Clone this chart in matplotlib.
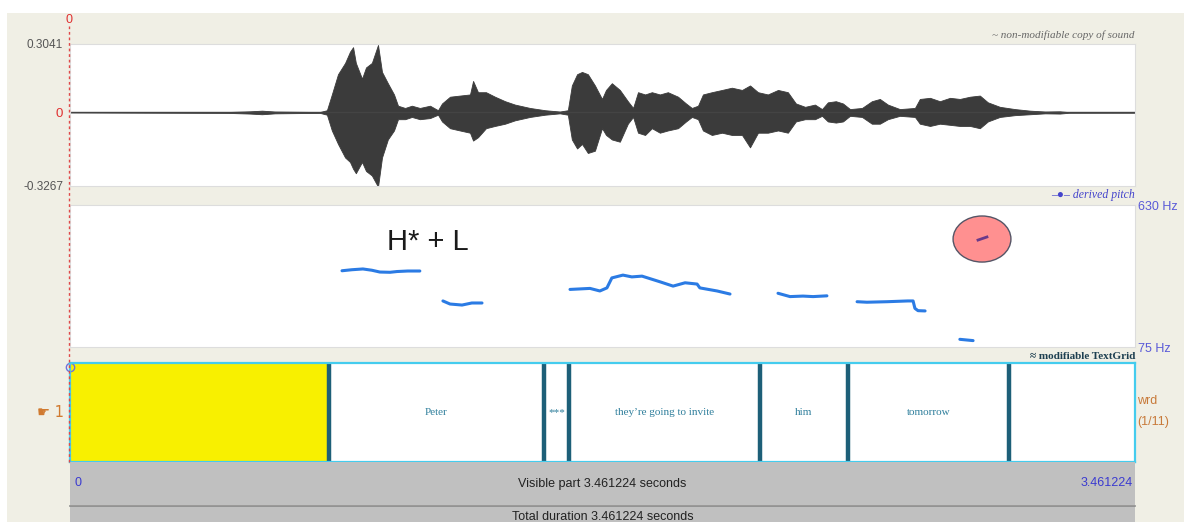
import matplotlib.pyplot as plt
from matplotlib.patches import Rectangle, Ellipse

W, H = 1184, 522
dur = 3.461224
amp_top, amp_bot = 0.3041, -0.3267
f_lo, f_hi = 75, 630

# waveform envelope: time (s), upper and lower amplitude
wave_t = [0, 0.5135, 0.585, 0.624, 0.666, 0.731, 0.8125, 0.835, 0.851, 0.871, 0.894, 0.910,
          0.920, 0.929, 0.949, 0.962, 0.981, 1.001, 1.014, 1.033, 1.053, 1.066, 1.089, 1.111,
          1.137, 1.170, 1.196, 1.209, 1.235, 1.267, 1.300, 1.310, 1.326, 1.352, 1.381, 1.414,
          1.446, 1.495, 1.544, 1.592, 1.618, 1.631, 1.648, 1.664, 1.683, 1.706, 1.729, 1.742,
          1.761, 1.787, 1.813, 1.830, 1.846, 1.869, 1.891, 1.917, 1.943, 1.976, 2.002, 2.021,
          2.041, 2.057, 2.086, 2.119, 2.151, 2.184, 2.210, 2.236, 2.268, 2.301, 2.333, 2.359,
          2.389, 2.421, 2.444, 2.463, 2.489, 2.512, 2.535, 2.574, 2.606, 2.632, 2.658, 2.697,
          2.746, 2.762, 2.795, 2.827, 2.860, 2.892, 2.925, 2.957, 2.983, 3.022, 3.071, 3.120,
          3.169, 3.217, 3.250, 3.461]
wave_hi = [0, 0.002, 0.005, 0.008, 0.004, 0.003, 0.002, 0.01, 0.08, 0.17, 0.22, 0.27,
           0.29, 0.22, 0.15, 0.2, 0.22, 0.30, 0.18, 0.13, 0.08, 0.03, 0.02, 0.03,
           0.02, 0.03, 0.01, 0.04, 0.07, 0.075, 0.08, 0.14, 0.09, 0.09, 0.07, 0.05,
           0.035, 0.02, 0.01, 0.004, 0.01, 0.12, 0.17, 0.18, 0.17, 0.12, 0.06, 0.1,
           0.13, 0.1, 0.05, 0.02, 0.09, 0.08, 0.09, 0.08, 0.09, 0.07, 0.04, 0.02,
           0.03, 0.08, 0.09, 0.1, 0.11, 0.1, 0.12, 0.09, 0.08, 0.1, 0.09, 0.04,
           0.025, 0.035, 0.015, 0.045, 0.05, 0.04, 0.015, 0.02, 0.05, 0.06, 0.035, 0.015,
           0.02, 0.06, 0.065, 0.05, 0.065, 0.06, 0.07, 0.075, 0.045, 0.025, 0.015, 0.008,
           0.004, 0.005, 0.001, 0]
wave_lo = [0, -0.002, -0.005, -0.008, -0.004, -0.003, -0.002, -0.01, -0.08, -0.14, -0.2, -0.22,
           -0.25, -0.27, -0.22, -0.26, -0.28, -0.33, -0.2, -0.12, -0.08, -0.03, -0.03, -0.02,
           -0.03, -0.025, -0.01, -0.04, -0.07, -0.08, -0.09, -0.125, -0.11, -0.07, -0.06, -0.05,
           -0.035, -0.02, -0.01, -0.004, -0.01, -0.12, -0.16, -0.14, -0.18, -0.17, -0.07, -0.1,
           -0.12, -0.13, -0.05, -0.02, -0.09, -0.1, -0.07, -0.09, -0.08, -0.07, -0.04, -0.02,
           -0.03, -0.08, -0.1, -0.09, -0.1, -0.1, -0.155, -0.09, -0.09, -0.08, -0.09, -0.04,
           -0.03, -0.03, -0.015, -0.04, -0.045, -0.04, -0.015, -0.02, -0.05, -0.05, -0.03, -0.015,
           -0.02, -0.05, -0.06, -0.05, -0.055, -0.06, -0.06, -0.07, -0.04, -0.02, -0.012, -0.008,
           -0.004, -0.005, -0.001, 0]

# pitch track (s, Hz), one list per voiced stretch
pitch_t = [
    [0.884, 0.916, 0.952, 0.981, 1.007, 1.040, 1.063, 1.098, 1.137],
    [1.212, 1.235, 1.274, 1.306, 1.339],
    [1.625, 1.690, 1.722, 1.745, 1.761, 1.797, 1.826, 1.859, 1.917, 1.960, 1.999, 2.038,
     2.047, 2.103, 2.145],
    [2.301, 2.340, 2.382, 2.415, 2.460],
    [2.558, 2.590, 2.655, 2.723, 2.740, 2.746, 2.756, 2.779],
    [2.892, 2.935],
]
pitch_f = [
    [373, 377, 380, 375, 368, 367, 370, 372, 372],
    [255, 243, 239, 247, 247],
    [300, 304, 294, 306, 345, 356, 349, 352, 330, 313, 326, 321, 306, 294, 282],
    [285, 272, 274, 272, 275],
    [252, 250, 252, 255, 255, 226, 217, 216],
    [105, 100],
]
# stray high pitch point, circled
odd_t = [2.951, 2.980]
odd_f = [493, 505]

# word tier
bounds = [0, 0.842, 1.539, 1.623, 2.242, 2.527, 3.053, dur]
words = ["", "Peter", "***", "they\u2019re going to invite", "him", "tomorrow", ""]
selected = 0


def box(x0, y0, x1, y1):
    return [x0 / W, 1 - y1 / H, (x1 - x0) / W, (y1 - y0) / H]


fig = plt.figure(figsize=(W / 100, H / 100), dpi=100, facecolor='white')
fig.patches.append(Rectangle((7 / W, 0), 1, 1 - 13 / H, transform=fig.transFigure,
                             facecolor='#f0efe5', edgecolor='none', zorder=-10))

serif = ['Liberation Serif', 'DejaVu Serif']
sans = ['Liberation Sans', 'DejaVu Sans']

# --- sound panel
ax = fig.add_axes(box(70, 44, 1135, 186))
ax.fill_between(wave_t, wave_lo, wave_hi, color='#3b3b3b', lw=0.6)
ax.plot([0, dur], [0, 0], color='#444444', lw=1.0)
ax.set_xlim(0, dur)
ax.set_ylim(amp_bot, amp_top)
ax.set_xticks([])
ax.set_yticks([amp_bot, 0, amp_top], ['%.4f' % amp_bot, '0', '%.4f' % amp_top],
              family=sans, fontsize=8.5, color='#555555')
ax.get_yticklabels()[1].set_color('#e03030')
ax.get_yticklabels()[1].set_fontsize(9.5)
ax.tick_params(axis='y', length=0, pad=5)
for s in ax.spines.values():
    s.set_color('#dddddd')
ax.text(1.0, 1.03, '~ non-modifiable copy of sound', transform=ax.transAxes,
        ha='right', va='bottom', family=serif, style='italic', fontsize=8, color='#666666')

# --- pitch panel
ap = fig.add_axes(box(70, 205, 1135, 347))
for tt, ff in zip(pitch_t, pitch_f):
    ap.plot(tt, ff, color='#2b7be4', lw=2.2, solid_capstyle='round')
ap.add_patch(Ellipse((2.964, 497), 0.188, 180, facecolor='#ff9090', edgecolor='#555566', lw=1.0))
ap.plot(odd_t, odd_f, color='#6a3a8a', lw=2.0)
ap.text(1.030, 485, 'H* + L', family=sans, fontsize=21, color='#1a1a1a', ha='left',
        va='center')
ap.set_xlim(0, dur)
ap.set_ylim(f_lo, f_hi)
ap.set_xticks([])
ap.yaxis.tick_right()
ap.set_yticks([f_lo, f_hi], ['%d Hz' % f_lo, '%d Hz' % f_hi], family=sans, fontsize=9,
              color='#5a5ad8')
ap.tick_params(axis='y', length=0, pad=2)
for s in ap.spines.values():
    s.set_color('#dddddd')
ap.text(1.0, 1.03, '\u2013\u25cf\u2013 derived pitch', transform=ap.transAxes, ha='right',
        va='bottom', family=serif, style='italic', fontsize=8.5, color='#4444cc')

# --- TextGrid tier
at = fig.add_axes(box(70, 363, 1135, 462))
at.set_xlim(0, dur)
at.set_ylim(0, 1)
at.axvspan(bounds[selected], bounds[selected + 1], color='#f8f000', lw=0)
for b in bounds[1:-1]:
    at.axvline(b, color='#1d5f78', lw=3.2)
for i, w in enumerate(words):
    at.text((bounds[i] + bounds[i + 1]) / 2, 0.5, w, ha='center', va='center', family=serif,
            fontsize=8, color='#2f7f9c')
at.set_xticks([])
at.set_yticks([])
for s in at.spines.values():
    s.set_color('#44ccee')
    s.set_linewidth(1.6)
at.text(1.0, 1.02, '\u2248 modifiable TextGrid', transform=at.transAxes, ha='right',
        va='bottom', family=serif, weight='bold', fontsize=8, color='#1d3f50')
at.text(-0.006, 0.5, '\u261b 1', transform=at.transAxes, ha='right', va='center',
        family=['DejaVu Sans'], fontsize=10.5, color='#d07a30')
at.text(1.002, 0.62, 'wrd', transform=at.transAxes, ha='left', va='center', family=sans,
        fontsize=9, color='#c87a3a')
at.text(1.002, 0.4, '(1/11)', transform=at.transAxes, ha='left', va='center', family=sans,
        fontsize=9, color='#c87a3a')
at.plot([0], [0.96], marker='o', ms=6, mfc='none', mec='#7070dd', mew=1.0, clip_on=False)

# --- time bars
ab = fig.add_axes(box(70, 462, 1135, 505))
ab.set_xlim(0, dur)
ab.set_facecolor('#c0c0c0')
ab.set_xticks([])
ab.set_yticks([])
for s in ab.spines.values():
    s.set_visible(False)
ab.text(0.004, 0.5, '0', transform=ab.transAxes, ha='left', va='center', family=sans,
        fontsize=9, color='#3a3ad0')
ab.text(0.998, 0.5, '%.6f' % dur, transform=ab.transAxes, ha='right', va='center',
        family=sans, fontsize=9, color='#3a3ad0')
ab.text(0.5, 0.5, 'Visible part %.6f seconds' % dur, transform=ab.transAxes, ha='center',
        va='center', family=sans, fontsize=9, color='#222222')

ab2 = fig.add_axes(box(70, 506, 1135, 530))
ab2.set_facecolor('#c0c0c0')
ab2.set_xticks([])
ab2.set_yticks([])
for s in ab2.spines.values():
    s.set_visible(False)
ab2.spines['top'].set_visible(True)
ab2.spines['top'].set_color('#8a8a8a')
ab2.spines['top'].set_linewidth(1.2)
ab2.text(0.5, 0.55, 'Total duration %.6f seconds' % dur, transform=ab2.transAxes,
         ha='center', va='center', family=sans, fontsize=9, color='#222222')

# time-zero cursor
fig.add_artist(plt.Line2D([69 / W, 69 / W], [1 - 462 / H, 1 - 26 / H], transform=fig.transFigure,
                          color='#e04848', lw=1.0, ls=(0, (2, 2))))
fig.text(69 / W, 1 - 20 / H, '0', ha='center', va='center', family=sans, fontsize=9,
         color='#e03030')

fig.savefig('out.png', dpi=100, facecolor=fig.get_facecolor())
